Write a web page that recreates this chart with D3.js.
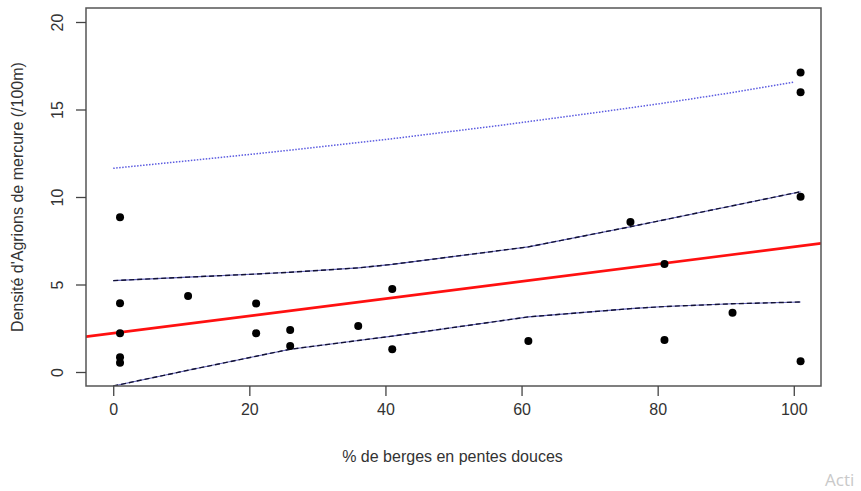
<!DOCTYPE html>
<html>
<head>
<meta charset="utf-8">
<script src="https://cdn.jsdelivr.net/npm/d3@7"></script>
<style>
  body { margin: 0; background: white; }
  svg { display: block; font-family: "Liberation Sans", Arial, sans-serif; }
</style>
</head>
<body>
<svg id="chart"></svg>
<script>
// points
var ptX = [1, 1, 1, 1, 1, 11, 21, 21, 26, 26, 36, 41, 41, 61, 76, 81, 81, 91, 101, 101, 101, 101];
var ptY = [8.84, 3.93, 2.21, 0.84, 0.53, 4.34, 3.92, 2.21, 2.4, 1.49, 2.63, 4.74, 1.3, 1.77, 8.57, 6.17, 1.83, 3.39, 17.12, 15.98, 10.02, 0.61];

// fitted line (abline), ends beyond the plot region
var fitX = [-4, 104];
var fitY = [2.02, 7.35];

// confidence band
var bandX = [0, 11, 21, 26, 36, 41, 61, 76, 81, 91, 101];
var bandUp = [5.22, 5.42, 5.6, 5.7, 5.95, 6.15, 7.15, 8.3, 8.7, 9.5, 10.3];
var bandLo = [-0.8, 0.1, 0.9, 1.3, 1.8, 2.05, 3.15, 3.62, 3.74, 3.9, 4.0];

// upper prediction limit
var predX = [0, 11, 21, 27.5, 41, 57, 72, 81, 91, 100];
var predUp = [11.64, 12.07, 12.47, 12.74, 13.33, 14.1, 14.88, 15.37, 15.97, 16.57];

var xTicks = [0, 20, 40, 60, 80, 100];
var yTicks = [0, 5, 10, 15, 20];

var W = 861, H = 491;
var box = {left: 86, right: 821, top: 8, bottom: 386};

var svg = d3.select("#chart").attr("width", W).attr("height", H);

var x = d3.scaleLinear().domain([-4, 104]).range([box.left, box.right]);
var y = d3.scaleLinear().domain([-0.8, 20.8]).range([box.bottom, box.top]);

svg.append("clipPath").attr("id", "clip")
  .append("rect")
  .attr("x", box.left).attr("y", box.top)
  .attr("width", box.right - box.left).attr("height", box.bottom - box.top);

var plot = svg.append("g").attr("clip-path", "url(#clip)");

var line = d3.line().x(d => x(d[0])).y(d => y(d[1]));

// red regression line
plot.append("path")
  .datum(d3.zip(fitX, fitY))
  .attr("d", line)
  .attr("fill", "none")
  .attr("stroke", "#ff1010")
  .attr("stroke-width", 2.6);

// confidence band: blue line with black dashes on top
[bandUp, bandLo].forEach(function(b) {
  var pts = d3.zip(bandX, b);
  plot.append("path").datum(pts).attr("d", line)
    .attr("fill", "none").attr("stroke", "#3a3aa8").attr("stroke-width", 1.1).attr("opacity", 0.8);
  plot.append("path").datum(pts).attr("d", line)
    .attr("fill", "none").attr("stroke", "#111133").attr("stroke-width", 1.4)
    .attr("stroke-dasharray", "5,3");
});

// dotted prediction line
plot.append("path")
  .datum(d3.zip(predX, predUp))
  .attr("d", line)
  .attr("fill", "none")
  .attr("stroke", "#5b5be0")
  .attr("stroke-width", 1.5)
  .attr("stroke-dasharray", "1.5,1.5");

// points
plot.selectAll("circle")
  .data(d3.zip(ptX, ptY))
  .enter().append("circle")
  .attr("cx", d => x(d[0]))
  .attr("cy", d => y(d[1]))
  .attr("r", 4)
  .attr("fill", "black");

// box
svg.append("rect")
  .attr("x", box.left).attr("y", box.top)
  .attr("width", box.right - box.left).attr("height", box.bottom - box.top)
  .attr("fill", "none").attr("stroke", "#555").attr("stroke-width", 1.5);

// axes
var xAxis = svg.append("g")
  .attr("transform", "translate(0," + box.bottom + ")")
  .call(d3.axisBottom(x).tickValues(xTicks).tickSize(10).tickPadding(8));
xAxis.select(".domain").remove();
xAxis.selectAll("line").attr("stroke", "#444").attr("stroke-width", 1.3);
xAxis.selectAll("text").attr("fill", "#333").style("font-size", "16px")
  .style("font-family", "'Liberation Sans', Arial, sans-serif");

var yAxis = svg.append("g")
  .attr("transform", "translate(" + box.left + ",0)")
  .call(d3.axisLeft(y).tickValues(yTicks).tickSize(10));
yAxis.select(".domain").remove();
yAxis.selectAll("line").attr("stroke", "#444").attr("stroke-width", 1.3);
yAxis.selectAll("text")
  .attr("x", null).attr("dy", null)
  .attr("transform", "translate(-23,0) rotate(-90)")
  .attr("text-anchor", "middle")
  .attr("fill", "#333").style("font-size", "16px")
  .style("font-family", "'Liberation Sans', Arial, sans-serif");

// axis labels
svg.append("text")
  .attr("x", (box.left + box.right) / 2 - 1)
  .attr("y", 462)
  .attr("text-anchor", "middle")
  .attr("fill", "#333")
  .style("font-size", "16px")
  .text("% de berges en pentes douces");

svg.append("text")
  .attr("transform", "translate(23," + ((box.top + box.bottom) / 2) + ") rotate(-90)")
  .attr("text-anchor", "middle")
  .attr("fill", "#333")
  .style("font-size", "16px")
  .text("Densité d'Agrions de mercure (/100m)");

// the visible part of the watermark
svg.append("text")
  .attr("x", 825).attr("y", 486)
  .attr("fill", "#c9c9c9")
  .style("font-family", "'Open Sans', sans-serif")
  .style("font-size", "17px")
  .text("Acti");
</script>
</body>
</html>
